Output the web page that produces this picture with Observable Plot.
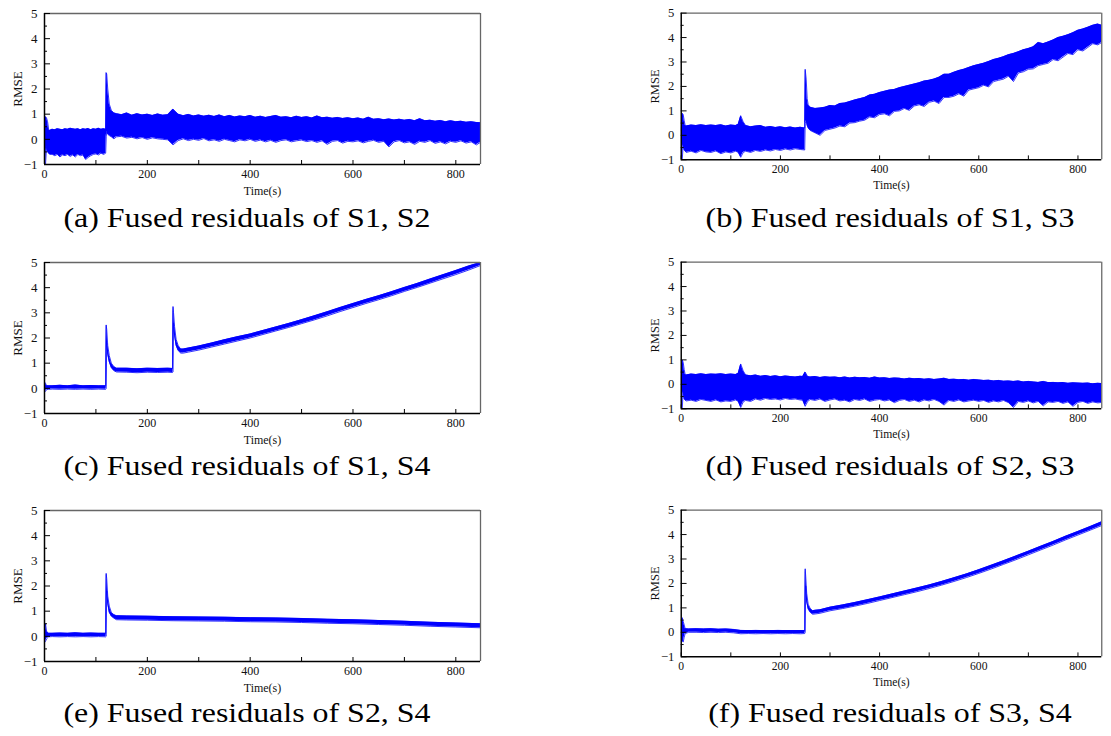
<!DOCTYPE html>
<html><head><meta charset="utf-8">
<script src="https://cdn.jsdelivr.net/npm/d3@7"></script>
<script src="https://cdn.jsdelivr.net/npm/@observablehq/plot@0.6"></script>
<style>
html,body{margin:0;padding:0;background:#fff;}
#root{position:relative;width:1111px;height:736px;overflow:hidden;background:#fff;}
.panel{position:absolute;}
.cap{position:absolute;width:600px;text-align:center;font-family:"Liberation Serif","Times New Roman",serif;font-size:28px;line-height:28px;color:#000;transform:scaleX(1.14);transform-origin:center;white-space:nowrap;}
</style></head><body><div id="root"></div>
<script>
// ---------- tick values ----------
const xTickVals = [0,100,200,300,400,500,600,700,800];
const xLabelVals = [0,200,400,600,800];
const yLabelVals = [-1,0,1,2,3,4,5];
const yMinorVals = [-0.5,0.5,1.5,2.5,3.5,4.5];

// ---------- (a) S1,S2 ----------
const aT = [0,2,4,6,8,10,15,20,25,30,35,40,45,50,55,60,65,70,75,80,85,90,95,100,105,110,115,119,
  120,121,123,126,130,135,
  140,150,160,170,180,190,200,210,220,230,240,250,260,270,280,290,300,310,320,330,340,350,360,370,380,390,400,410,420,430,440,450,460,470,480,490,500,510,520,530,540,550,560,570,580,590,600,610,620,630,640,650,660,670,680,690,700,710,720,730,740,750,760,770,780,790,800,810,820,830,840,848];
const aLo = [-1.0,-1.0,-0.3,-0.5,-0.55,-0.6,-0.6,-0.65,-0.6,-0.7,-0.62,-0.65,-0.6,-0.68,-0.62,-0.7,-0.6,-0.65,-0.62,-0.8,-0.72,-0.65,-0.6,-0.58,-0.62,-0.55,-0.6,-0.55,
  0.1,0.3,0.2,0.15,0.1,0.02,
  0.1,0.12,0.05,0.08,0.02,0.07,0.0,0.06,0.02,0.0,
  -0.02,-0.22,-0.05,0.02,-0.05,0.0,-0.04,0.03,-0.06,-0.02,
  -0.08,0.0,-0.05,-0.1,-0.02,-0.06,0.0,-0.08,-0.03,-0.1,
  -0.04,-0.12,-0.05,-0.02,-0.1,-0.06,-0.03,-0.09,-0.05,-0.12,
  -0.06,-0.2,-0.08,-0.05,-0.15,-0.08,-0.1,-0.06,-0.14,-0.08,
  -0.04,-0.12,-0.08,-0.3,-0.1,-0.05,-0.14,-0.1,-0.2,-0.08,
  -0.12,-0.05,-0.16,-0.1,-0.18,-0.08,-0.12,-0.06,-0.15,-0.1,
  -0.22,-0.12];
const aHi = [0.3,0.9,0.85,0.7,0.4,0.35,0.4,0.38,0.42,0.4,0.38,0.42,0.4,0.44,0.42,0.4,0.42,0.38,0.42,0.4,0.43,0.38,0.42,0.4,0.44,0.4,0.42,0.4,
  2.65,2.6,2.0,1.4,1.15,1.05,
  1.02,0.98,1.05,0.96,1.02,0.97,1.0,0.95,1.01,0.96,
  0.98,1.2,1.0,0.94,0.99,0.93,0.97,0.92,0.96,0.91,
  0.97,0.9,0.95,0.89,0.93,0.9,0.95,0.88,0.92,0.87,
  0.91,0.95,0.88,0.9,0.86,0.92,0.87,0.9,0.85,0.93,
  0.86,0.88,0.84,0.87,0.83,0.86,0.82,0.85,0.8,0.88,
  0.8,0.82,0.78,0.81,0.77,0.8,0.76,0.79,0.74,0.82,
  0.74,0.76,0.72,0.75,0.7,0.74,0.7,0.72,0.68,0.7,
  0.67,0.66];

// ---------- (b) S1,S3 ----------
const bT = [0,2,4,6,8,10,20,30,40,50,60,70,80,90,100,110,115,120,125,130,140,150,160,170,180,190,200,210,220,230,240,249,
  250,252,254,256,260,
  270,280,290,300,310,320,330,340,350,360,370,380,390,400,410,420,430,440,450,460,470,480,490,500,510,520,530,540,550,560,570,580,590,600,610,620,630,640,650,660,670,680,690,700,710,720,730,740,750,760,770,780,790,800,810,820,830,840,848];
const bLo = [-1.0,-1.0,-0.4,-0.6,-0.65,-0.7,-0.65,-0.72,-0.62,-0.68,-0.7,-0.64,-0.75,-0.68,-0.72,-0.65,-0.7,-0.9,-0.7,-0.65,-0.7,-0.62,-0.66,-0.6,-0.64,-0.58,-0.62,-0.56,-0.6,-0.55,-0.58,-0.6,
  0.5,0.6,0.4,0.3,0.2,
  0.1,0.0,0.2,0.25,0.3,0.38,0.35,0.5,0.52,0.58,
  0.62,0.75,0.72,0.85,0.88,0.8,0.98,1.0,1.1,1.02,
  1.2,1.25,1.18,1.35,1.4,1.3,1.55,1.55,1.6,1.7,
  1.6,1.85,1.9,1.95,2.05,1.98,2.2,2.25,2.3,2.42,
  2.2,2.55,2.6,2.7,2.72,2.85,2.9,2.95,3.1,3.05,
  3.2,3.35,3.3,3.5,3.45,3.6,3.75,3.7,3.8];
const bHi = [0.2,0.9,0.85,0.6,0.4,0.38,0.42,0.4,0.43,0.4,0.42,0.4,0.43,0.38,0.42,0.4,0.45,0.8,0.55,0.4,0.35,0.38,0.4,0.33,0.36,0.32,0.35,0.31,0.34,0.3,0.33,0.3,
  2.7,2.3,1.5,1.25,1.15,
  1.1,1.12,1.15,1.22,1.2,1.3,1.32,1.38,1.45,1.5,
  1.55,1.65,1.68,1.75,1.8,1.85,1.88,1.95,2.0,2.05,
  2.1,2.15,2.22,2.25,2.3,2.38,2.5,2.5,2.58,2.65,
  2.7,2.78,2.85,2.9,2.95,3.02,3.1,3.15,3.22,3.3,
  3.35,3.42,3.5,3.55,3.62,3.8,3.75,3.82,3.9,4.0,
  4.05,4.12,4.2,4.3,4.35,4.42,4.5,4.55,4.5];

// ---------- (c) S1,S4 ----------
const cT = [0,2,4,8,15,30,45,60,75,90,105,119,
  120,121,123,126,130,135,140,160,180,200,220,240,249,
  250,251,253,256,260,265,270,280,
  300,325,350,375,400,425,450,475,500,525,550,575,600,625,650,675,700,725,750,775,800,825,848];
const cLo = [-0.1,-0.12,-0.05,-0.04,-0.03,-0.04,-0.03,-0.04,-0.03,-0.04,-0.03,-0.04,
  0.0,1.8,1.35,1.05,0.82,0.7,0.65,0.64,0.62,0.64,0.63,0.64,0.63,
  0.65,2.6,2.1,1.7,1.5,1.4,1.4,1.44,
  1.52,1.64,1.76,1.88,2.0,2.14,2.28,2.42,2.57,2.72,2.88,3.05,3.21,3.37,3.52,3.68,3.85,4.01,4.18,4.35,4.52,4.7,4.88];
const cHi = [0.25,0.2,0.1,0.1,0.1,0.12,0.1,0.13,0.1,0.11,0.1,0.1,
  2.52,2.35,1.7,1.3,1.0,0.86,0.8,0.8,0.78,0.8,0.79,0.8,0.79,
  3.25,3.0,2.45,1.95,1.7,1.56,1.56,1.6,
  1.68,1.8,1.93,2.05,2.16,2.3,2.44,2.58,2.73,2.88,3.04,3.21,3.37,3.53,3.68,3.84,4.01,4.17,4.34,4.51,4.68,4.86,5.0];

// ---------- (d) S2,S3 ----------
const dT = [0,2,4,6,8,10,20,30,40,50,60,70,80,90,100,110,115,120,125,130,140,150,160,170,180,190,200,210,220,230,240,
  245,250,255,
  260,270,280,290,300,310,320,330,340,350,360,370,380,390,400,410,420,430,440,450,460,470,480,490,500,510,520,530,540,550,560,570,580,590,600,610,620,630,640,650,660,670,680,690,700,710,720,730,740,750,760,770,780,790,800,810,820,830,840,848];
const dLo = [-1.0,-1.0,-0.3,-0.6,-0.65,-0.68,-0.65,-0.7,-0.62,-0.66,-0.7,-0.64,-0.72,-0.68,-0.7,-0.64,-0.7,-0.95,-0.72,-0.66,-0.7,-0.6,-0.65,-0.58,-0.62,-0.6,-0.64,-0.58,-0.62,-0.6,-0.64,
  -0.65,-0.9,-0.7,
  -0.62,-0.66,-0.6,-0.7,-0.64,-0.6,-0.68,-0.65,-0.72,-0.62,
  -0.66,-0.6,-0.7,-0.65,-0.62,-0.68,-0.64,-0.75,-0.66,-0.62,
  -0.7,-0.65,-0.72,-0.64,-0.68,-0.62,-0.7,-0.85,-0.66,-0.7,
  -0.64,-0.72,-0.68,-0.65,-0.7,-0.66,-0.74,-0.68,-0.72,-0.66,
  -0.75,-0.95,-0.7,-0.74,-0.68,-0.76,-0.7,-0.88,-0.72,-0.74,
  -0.7,-0.78,-0.72,-0.9,-0.74,-0.7,-0.78,-0.72,-0.76,-0.74];
const dHi = [0.2,1.0,0.9,0.6,0.4,0.38,0.42,0.4,0.43,0.4,0.42,0.41,0.43,0.4,0.42,0.4,0.45,0.83,0.55,0.38,0.35,0.38,0.33,0.36,0.32,0.35,0.31,0.34,0.32,0.3,0.33,
  0.32,0.5,0.32,
  0.3,0.32,0.28,0.31,0.29,0.3,0.27,0.3,0.26,0.29,
  0.27,0.28,0.25,0.3,0.26,0.27,0.24,0.26,0.25,0.22,
  0.25,0.23,0.24,0.21,0.23,0.2,0.22,0.25,0.2,0.21,
  0.19,0.2,0.17,0.2,0.18,0.16,0.17,0.14,0.16,0.13,
  0.14,0.12,0.14,0.1,0.12,0.1,0.08,0.12,0.07,0.08,
  0.06,0.07,0.04,0.06,0.05,0.04,0.05,0.02,0.04,0.03];

// ---------- (e) S2,S4 ----------
const eT = [0,2,4,8,15,30,45,60,75,90,105,119,
  120,121,123,126,130,135,140,
  160,200,250,300,350,400,450,500,550,600,650,700,750,800,848];
const eLo = [-0.25,-0.2,-0.1,-0.02,-0.01,-0.02,-0.01,-0.02,-0.01,-0.02,-0.01,-0.02,
  0.0,1.8,1.3,0.95,0.8,0.72,0.66,
  0.65,0.64,0.62,0.61,0.6,0.58,0.57,0.55,0.52,0.5,0.47,0.44,0.4,0.37,0.34];
const eHi = [0.3,0.5,0.2,0.12,0.12,0.13,0.12,0.14,0.12,0.13,0.12,0.12,
  2.5,2.3,1.6,1.2,0.95,0.86,0.82,
  0.81,0.8,0.78,0.77,0.76,0.74,0.73,0.71,0.68,0.66,0.63,0.6,0.56,0.53,0.5];

// ---------- (f) S3,S4 ----------
const fT = [0,2,4,6,8,15,30,45,60,75,90,105,120,135,150,165,180,195,210,225,240,249,
  250,251,253,256,260,265,270,280,
  300,325,350,375,400,425,450,475,500,525,550,575,600,625,650,675,700,725,750,775,800,825,848];
const fLo = [-0.1,-0.35,-0.4,-0.2,-0.05,0.0,0.0,-0.01,0.0,-0.01,0.0,-0.02,-0.06,-0.05,-0.06,-0.05,-0.06,-0.05,-0.06,-0.05,-0.06,-0.05,
  0.0,1.9,1.25,0.95,0.82,0.74,0.75,0.78,
  0.88,0.97,1.07,1.18,1.3,1.42,1.54,1.66,1.79,1.93,2.08,2.24,2.41,2.59,2.78,2.97,3.17,3.37,3.57,3.78,3.98,4.18,4.37];
const fHi = [0.1,0.6,0.45,0.3,0.15,0.14,0.15,0.14,0.15,0.13,0.14,0.12,0.08,0.07,0.08,0.07,0.07,0.08,0.07,0.07,0.07,0.07,
  2.6,2.3,1.6,1.15,0.98,0.88,0.9,0.92,
  1.03,1.12,1.22,1.33,1.45,1.57,1.69,1.81,1.94,2.08,2.23,2.39,2.56,2.74,2.93,3.12,3.32,3.52,3.72,3.93,4.13,4.33,4.52];

// ---------- panel factory ----------
const FONT = '"Liberation Serif","Times New Roman",serif';
const fmt = d => (d < 0 ? "\u2212" + Math.abs(d) : String(d));
function makePanel(T, LO, HI, width, plotW) {
  const MT = 13, H = 151, MB = 40, ML = 44;
  const data = T.map((t, i) => ({t, lo: LO[i], hi: HI[i]}));
  const blue = "#0000ff";
  return Plot.plot({
    width, height: MT + H + MB,
    marginLeft: ML, marginRight: width - ML - plotW, marginTop: MT, marginBottom: MB,
    x: {domain: [0, 848]},
    y: {domain: [-1, 5]},
    style: {fontFamily: FONT, fontSize: "13px", color: "#111", background: "transparent", overflow: "visible"},
    marks: [
      Plot.areaY(data, {x: "t", y1: "lo", y2: "hi", fill: blue, clip: true}),
      Plot.line(data, {x: "t", y: "hi", stroke: blue, strokeWidth: 0.8, clip: true}),
      Plot.line(data, {x: "t", y: "lo", stroke: blue, strokeWidth: 0.8, clip: true}),
      Plot.ruleY([5], {stroke: "#666", strokeWidth: 1.3}),
      Plot.ruleX([848], {stroke: "#666", strokeWidth: 1.3}),
      Plot.ruleX([0], {stroke: "#000", strokeWidth: 1.5}),
      Plot.ruleY([-1], {stroke: "#000", strokeWidth: 1.5}),
      Plot.tickY(yLabelVals, {y: d => d, insetRight: plotW - 6, stroke: "#000", strokeWidth: 1}),
      Plot.tickY(yMinorVals, {y: d => d, insetRight: plotW - 3, stroke: "#000", strokeWidth: 1}),
      Plot.tickX(xTickVals, {x: d => d, insetTop: H - 4, stroke: "#000", strokeWidth: 1}),
      Plot.axisX({ticks: xLabelVals, tickFormat: fmt, tickSize: 0, tickPadding: 5, label: "Time(s)", labelAnchor: "center", labelOffset: 30, labelArrow: "none", fontSize: 12}),
      Plot.axisY({ticks: yLabelVals, tickFormat: fmt, tickSize: 0, tickPadding: 7, label: "RMSE", labelAnchor: "center", labelOffset: 32, labelArrow: "none"})
    ]
  });
}

const root = document.getElementById("root");
const panels = [
  {T: aT, LO: aLo, HI: aHi, left: 0,   top: 0,   w: 490, pw: 436, cap: "(a) Fused residuals of S1, S2", cx: 247,   cb: 227},
  {T: bT, LO: bLo, HI: bHi, left: 638, top: 0,   w: 487, pw: 433, cap: "(b) Fused residuals of S1, S3", cx: 889.5, cb: 227},
  {T: cT, LO: cLo, HI: cHi, left: 0,   top: 249, w: 490, pw: 436, cap: "(c) Fused residuals of S1, S4", cx: 247,   cb: 475},
  {T: dT, LO: dLo, HI: dHi, left: 638, top: 249, w: 487, pw: 433, cap: "(d) Fused residuals of S2, S3", cx: 889.5, cb: 475},
  {T: eT, LO: eLo, HI: eHi, left: 0,   top: 497, w: 490, pw: 436, cap: "(e) Fused residuals of S2, S4", cx: 247,   cb: 722},
  {T: fT, LO: fLo, HI: fHi, left: 638, top: 497, w: 487, pw: 433, cap: "(f) Fused residuals of S3, S4", cx: 889.5, cb: 722}
];
for (const p of panels) {
  const div = document.createElement("div");
  div.className = "panel";
  div.style.left = p.left + "px";
  div.style.top = p.top + "px";
  div.appendChild(makePanel(p.T, p.LO, p.HI, p.w, p.pw));
  root.appendChild(div);
  const cap = document.createElement("div");
  cap.className = "cap";
  cap.textContent = p.cap;
  cap.style.left = (p.cx - 300) + "px";
  cap.style.top = (p.cb - 23.5) + "px";
  root.appendChild(cap);
}
</script></body></html>
